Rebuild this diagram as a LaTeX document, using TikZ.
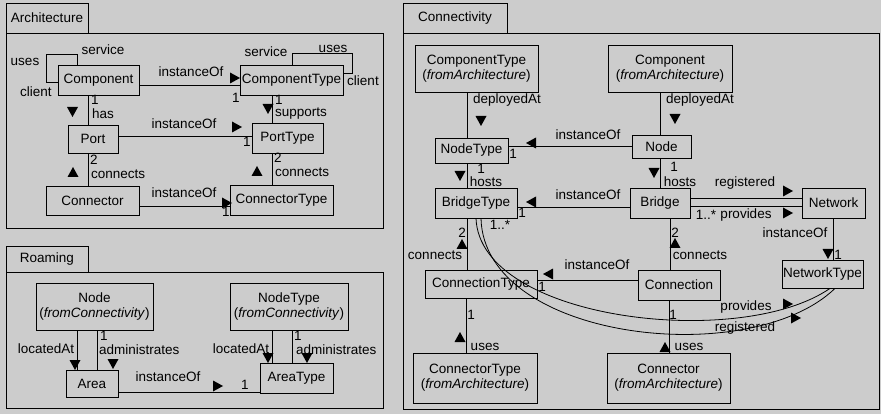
\documentclass[tikz,border=0pt]{standalone}
\usepackage{fontspec}
\setmainfont{Liberation Sans}
\definecolor{bg}{gray}{0.80}
\tikzset{
  every node/.style={font=\fontsize{13.5}{15}\selectfont},
  box/.style={draw, fill=bg, line width=0.8pt, inner sep=0pt, align=center},
  lab/.style={inner sep=0pt},
  ln/.style={line width=0.8pt},
  frm/.style={draw, line width=0.9pt},
}
\newcommand\trR[1]{\fill (#1) ++(-5,-5.5) -- ++(10,5.5) -- ++(-10,5.5) -- cycle;}
\newcommand\trL[1]{\fill (#1) ++(5,-5.5) -- ++(-10,5.5) -- ++(10,5.5) -- cycle;}
\newcommand\trD[1]{\fill (#1) ++(-5.5,-5) -- ++(11,0) -- ++(-5.5,10) -- cycle;}
\newcommand\trU[1]{\fill (#1) ++(-5.5,5) -- ++(11,0) -- ++(-5.5,-10) -- cycle;}
\begin{document}
\begin{tikzpicture}[x=1pt,y=-1pt]
\fill[bg] (0,0) rectangle (881,414);
\useasboundingbox (0,0) rectangle (881,414);

% ---------------- Architecture ----------------
\draw[frm] (6,3) rectangle (88,33);
\node[lab] (tabA) at (47,18) {Architecture};
\draw[frm] (6,33) rectangle (383,228);

\node[box, minimum width=81, minimum height=30] (comp) at (98.5,80) {Component};
\node[box, minimum width=103, minimum height=30] (ctype) at (291.5,80) {ComponentType};
\node[box, minimum width=50, minimum height=28] (port) at (93,139) {Port};
\node[box, minimum width=71, minimum height=30] (ptype) at (287.5,138) {PortType};
\node[box, minimum width=93, minimum height=29] (conn) at (92.5,200.5) {Connector};
\node[box, minimum width=103, minimum height=30] (contype) at (281.5,200) {ConnectorType};

% self loops
\draw[ln] ([xshift=20]comp.north west) -- ++(0,-10) -- ++(-31,0) -- ++(0,28) -- ([yshift=-18]comp.north west);
\node[lab] (lA1) at (25,62) {uses};
\node[lab] (lA2) at (103,50) {service};
\node[lab] (lA3) at (36,92) {client};
\draw[ln] ([xshift=53]ctype.north west) -- ++(0,-11) -- ++(60,0) -- ++(0,20) -- ([yshift=-9]ctype.north east);
\node[lab] (lA4) at (266,52) {service};
\node[lab] (lA5) at (333,49) {uses};
\node[lab] (lA6) at (363,81) {client};

% instanceOf component
\draw[ln] ([yshift=-5]comp.east) -- ([yshift=-5]comp.east -| ctype.west);
\node[lab] (lA7) at (191,72) {instanceOf};
\trR{235,78}
\node[lab] (lA8) at (236,98) {1};

% has
\draw[ln] ([xshift=-10.5]comp.south) -- ([xshift=-10.5]comp.south |- port.north);
\node[lab, anchor=west] (lA9) at (91,100) {1};
\node[lab, anchor=west] (lA10) at (92,114) {has};
\trD{72.5,112}

% instanceOf port
\draw[ln] ([yshift=3]port.east) -- ([yshift=3]port.east -| ptype.west);
\node[lab] (lA11) at (184,124) {instanceOf};
\trR{237,127}
\node[lab] (lA12) at (247,142) {1};

% supports
\draw[ln] ([xshift=-19.5]ctype.south) -- ([xshift=-19.5]ctype.south |- ptype.north);
\node[lab, anchor=west] (lA13) at (275,100) {1};
\node[lab, anchor=west] (lA14) at (275,114) {supports};
\trD{268,109}

% connects port
\draw[ln] ([xshift=-5]port.south) -- ([xshift=-5]port.south |- conn.north);
\node[lab, anchor=west] (lA15) at (90,160) {2};
\node[lab, anchor=west] (lA16) at (91,174) {connects};
\trU{73,172}

% connects porttype
\draw[ln] ([xshift=-15.5]ptype.south) -- ([xshift=-15.5]ptype.south |- contype.north);
\node[lab, anchor=west] (lA17) at (274,158) {2};
\node[lab, anchor=west] (lA18) at (275,172) {connects};
\trU{257,171}

% instanceOf connector
\draw[ln] ([yshift=-5.5]conn.east) -- ([yshift=-5.5]conn.east -| contype.west);
\node[lab] (lA19) at (184,193) {instanceOf};
\trR{227,203}
\node[lab] (lA20) at (226,212) {1};

% ---------------- Roaming ----------------
\draw[frm] (6,246) rectangle (88,272);
\node[lab] (tabR) at (47,259) {Roaming};
\draw[frm] (6,272) rectangle (383,408);

\node[box, minimum width=117, minimum height=47] (rnode) at (94.5,306.5) {Node\\(\textit{fromConnectivity})};
\node[box, minimum width=118, minimum height=47] (rntype) at (289,306.5) {NodeType\\(\textit{fromConnectivity})};
\node[box, minimum width=52, minimum height=27] (area) at (92,383.5) {Area};
\node[box, minimum width=73, minimum height=30] (atype) at (296.5,378) {AreaType};

\draw[ln] ([xshift=-17.5]rnode.south) -- ([xshift=-17.5]rnode.south |- area.north);
\node[lab] (lR1) at (46,349) {locatedAt};
\trD{75,365}
\draw[ln] ([xshift=2.5]rnode.south) -- ([xshift=2.5]rnode.south |- area.north);
\node[lab, anchor=west] (lR2) at (100,336) {1};
\node[lab, anchor=west] (lR3) at (99,350) {administrates};
\trD{113,364}

\draw[ln] ([yshift=-8.5]area.east) -- ([yshift=-8.5]area.east -| atype.west);
\node[lab] (lR4) at (168,377) {instanceOf};
\trR{218,386}
\node[lab] (lR5) at (245,385) {1};

\draw[ln] ([xshift=-17]rntype.south) -- ([xshift=-17]rntype.south |- atype.north);
\node[lab] (lR6) at (241,349) {locatedAt};
\trD{268,358}
\draw[ln] ([xshift=3]rntype.south) -- ([xshift=3]rntype.south |- atype.north);
\node[lab, anchor=west] (lR7) at (294,336) {1};
\node[lab, anchor=west] (lR8) at (296,350) {administrates};
\trD{307,358}

% ---------------- Connectivity ----------------
\draw[frm] (403,3) rectangle (507,33);
\node[lab] (tabC) at (455,18) {Connectivity};
\draw[frm] (403,33) rectangle (879,409);

\node[box, minimum width=123, minimum height=47] (ctA) at (476.5,68.5) {ComponentType\\(\textit{fromArchitecture})};
\node[box, minimum width=124, minimum height=47] (compA) at (670,68.5) {Component\\(\textit{fromArchitecture})};
\node[box, minimum width=73, minimum height=25] (ntype) at (471.5,150.5) {NodeType};
\node[box, minimum width=59, minimum height=23] (cnode) at (661.5,146.5) {Node};
\node[box, minimum width=82, minimum height=30] (btype) at (476,203) {BridgeType};
\node[box, minimum width=60, minimum height=30] (bridge) at (660,203) {Bridge};
\node[box, minimum width=63, minimum height=30] (net) at (833.5,203) {Network};
\node[box, minimum width=81, minimum height=28] (ntt) at (822.5,274) {NetworkType};
\node[box, minimum width=112, minimum height=28] (ctn) at (481,284) {ConnectionType};
\node[box, minimum width=82, minimum height=30] (cn) at (679,285) {Connection};
\node[box, minimum width=124, minimum height=50] (cotA) at (475,378) {ConnectorType\\(\textit{fromArchitecture})};
\node[box, minimum width=123, minimum height=50] (coA) at (668.5,378) {Connector\\(\textit{fromArchitecture})};

% deployedAt
\draw[ln] ([xshift=-9.5]ctA.south) -- ([xshift=-9.5]ctA.south |- ntype.north);
\node[lab] (lC1) at (507,100) {deployedAt};
\trD{481,121}
\draw[ln] ([xshift=-10]compA.south) -- ([xshift=-10]compA.south |- cnode.north);
\node[lab] (lC2) at (700,100) {deployedAt};
\trD{675,119}

% instanceOf node
\draw[ln] (cnode.west) -- (cnode.west -| ntype.east);
\node[lab] (lC3) at (588,135) {instanceOf};
\trL{531,143}
\node[lab] (lC4) at (513,154) {1};

% hosts
\draw[ln] ([xshift=-4.5]ntype.south) -- ([xshift=-4.5]ntype.south |- btype.north);
\node[lab] (lC5) at (481,169) {1};
\node[lab] (lC6) at (486,182) {hosts};
\trD{460,176}
\draw[ln] ([xshift=-1.5]cnode.south) -- ([xshift=-1.5]cnode.south |- bridge.north);
\node[lab] (lC7) at (674,167) {1};
\node[lab] (lC8) at (680,182) {hosts};
\trD{654,173}

% instanceOf bridge
\draw[ln] ([yshift=-4]bridge.west) -- ([yshift=-4]bridge.west -| btype.east);
\node[lab] (lC9) at (588,195) {instanceOf};
\trL{531,202}
\node[lab] (lC10) at (522,213) {1};
\node[lab] (lC11) at (500,225) {1..*};

% registered / provides bridge-network
\draw[ln] ([yshift=5]bridge.east) -- ([yshift=5]bridge.east -| net.west);
\node[lab] (lC12) at (745,183) {registered};
\trR{788,191}
\draw[ln] ([yshift=-3]bridge.east) -- ([yshift=-3]bridge.east -| net.west);
\node[lab] (lC13) at (706,215) {1..*};
\node[lab] (lC14) at (746,215) {provides};
\trR{788,213}

% instanceOf network
\draw[ln] (net.south) -- (net.south |- ntt.north);
\node[lab] (lC15) at (795,233) {instanceOf};
\trD{828,254}
\node[lab] (lC16) at (838,255) {1};

% connects
\draw[ln] ([xshift=-9]btype.south) -- ([xshift=-9]btype.south |- ctn.north);
\node[lab] (lC17) at (462,233) {2};
\trU{462,244}
\node[lab] (lC18) at (435,255) {connects};
\draw[ln] ([xshift=10]bridge.south) -- ([xshift=10]bridge.south |- cn.north);
\node[lab] (lC19) at (675,233) {2};
\trU{675,243}
\node[lab] (lC20) at (700,255) {connects};

% instanceOf connection
\draw[ln] ([yshift=5]cn.west) -- ([yshift=5]cn.west -| ctn.east);
\node[lab] (lC21) at (597,265) {instanceOf};
\trL{548,274}
\node[lab] (lC22) at (542,287) {1};

% uses
\draw[ln] ([xshift=-15]ctn.south) -- ([xshift=-15]ctn.south |- cotA.north);
\node[lab] (lC23) at (471,315) {1};
\trU{460,337}
\node[lab] (lC24) at (485,347) {uses};
\draw[ln] ([xshift=-10]cn.south) -- ([xshift=-10]cn.south |- coA.north);
\node[lab] (lC25) at (673,315) {1};
\trU{665,347}
\node[lab] (lC26) at (689,347) {uses};

% curves bridgetype - networktype
\draw[ln] (btype.south) .. controls ++(4,102) and ++(-90,62) .. ([xshift=7.5]ntt.south);
\draw[ln] ([xshift=5]btype.south) .. controls ++(3,122) and ++(-85,82) .. ([xshift=12.5]ntt.south);
\node[lab] (lC27) at (746,307) {provides};
\trR{788,304}
\node[lab] (lC28) at (745,328) {registered};
\trR{796,318}
\end{tikzpicture}
\end{document}
